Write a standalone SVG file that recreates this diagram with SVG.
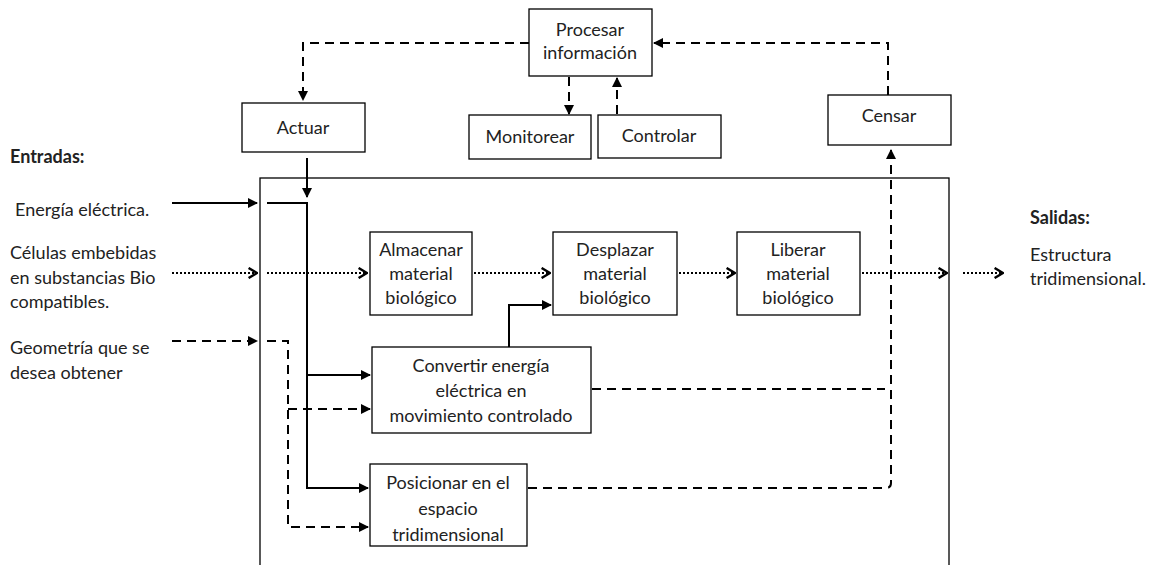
<svg xmlns="http://www.w3.org/2000/svg" width="1153" height="565" viewBox="0 0 1153 565">
<defs>
<style>
.box{fill:#fff;stroke:#000;stroke-width:1.3}
.t{font-family:Lato,"Liberation Sans",sans-serif;font-size:18px;fill:#222;text-anchor:middle}
.tl{font-family:Lato,"Liberation Sans",sans-serif;font-size:18px;fill:#222}
.b{font-weight:bold}
.solid{fill:none;stroke:#000;stroke-width:2}
.dash{fill:none;stroke:#000;stroke-width:2;stroke-dasharray:9 6}
.dot{fill:none;stroke:#000;stroke-width:2;stroke-dasharray:2 2}
</style>
<marker id="tri" viewBox="0 0 10 10" refX="9" refY="5" markerWidth="5" markerHeight="5" orient="auto" markerUnits="strokeWidth">
<path d="M0,0 L10,5 L0,10 z" fill="#000"/>
</marker>
<marker id="chev" viewBox="0 0 10 10" refX="9" refY="5" markerWidth="6" markerHeight="6" orient="auto" markerUnits="strokeWidth">
<path d="M2,0.8 L9,5 L2,9.2" fill="none" stroke="#000" stroke-width="2"/>
</marker>
</defs>
<rect width="1153" height="565" fill="#fff"/>

<g id="system-boundary"><rect x="260" y="178" width="689" height="400" fill="none" stroke="#000" stroke-width="1.3"/></g>

<g id="connectors">
<path class="dash" d="M529,43 H303 V100" marker-end="url(#tri)"/>
<path class="dash" d="M569,77 V114" marker-end="url(#tri)"/>
<path class="dash" d="M617,114 V78" marker-end="url(#tri)"/>
<path class="dash" d="M888,95 V43 H654" marker-end="url(#tri)"/>
<path class="solid" d="M307,158 V197" marker-end="url(#tri)"/>
<path class="solid" d="M172,203 H257" marker-end="url(#tri)"/>
<path class="solid" d="M267,203 H307 V488 H368" marker-end="url(#tri)"/>
<path class="solid" d="M307,375 H370" marker-end="url(#tri)"/>
<path class="dot" d="M172,273 H257" marker-end="url(#chev)"/>
<path class="dot" d="M267,273 H367" marker-end="url(#chev)"/>
<path class="dot" d="M474,273 H550" marker-end="url(#chev)"/>
<path class="dot" d="M679,273 H735" marker-end="url(#chev)"/>
<path class="dot" d="M862,273 H947" marker-end="url(#chev)"/>
<path class="dot" d="M963,273 H1003" marker-end="url(#chev)"/>
<path class="dash" d="M172,341 H257" marker-end="url(#tri)"/>
<path class="dash" d="M267,341 H288 V527 H368" marker-end="url(#tri)"/>
<path class="dash" d="M288,409 H370" marker-end="url(#tri)"/>
<path class="solid" d="M509,347 V305 H551" marker-end="url(#tri)"/>
<path class="dash" d="M592,389 H885"/>
<path class="dash" d="M528,488 H886 Q891,488 891,483 V150" marker-end="url(#tri)"/>
</g>

<g id="procesar"><rect class="box" x="529" y="9" width="123" height="67"/>
<text class="t" x="590" y="36">Procesar</text><text class="t" x="590" y="59">información</text></g>
<g id="actuar"><rect class="box" x="242" y="103" width="123" height="49"/>
<text class="t" x="303" y="134">Actuar</text></g>
<g id="monitorear"><rect class="box" x="469" y="115" width="122" height="44"/>
<text class="t" x="530" y="143">Monitorear</text></g>
<g id="controlar"><rect class="box" x="598" y="115" width="123" height="43"/>
<text class="t" x="659" y="142">Controlar</text></g>
<g id="censar"><rect class="box" x="828" y="95" width="123" height="50"/>
<text class="t" x="889" y="122">Censar</text></g>

<g id="almacenar"><rect class="box" x="370" y="232" width="102" height="83"/>
<text class="t" x="421" y="256">Almacenar</text><text class="t" x="421" y="280">material</text><text class="t" x="421" y="304">biológico</text></g>
<g id="desplazar"><rect class="box" x="553" y="232" width="124" height="83"/>
<text class="t" x="615" y="256">Desplazar</text><text class="t" x="615" y="280">material</text><text class="t" x="615" y="304">biológico</text></g>
<g id="liberar"><rect class="box" x="737" y="232" width="123" height="83"/>
<text class="t" x="798" y="256">Liberar</text><text class="t" x="798" y="280">material</text><text class="t" x="798" y="304">biológico</text></g>
<g id="convertir"><rect class="box" x="372" y="347" width="219" height="86"/>
<text class="t" x="481" y="372">Convertir energía</text><text class="t" x="481" y="397">eléctrica en</text><text class="t" x="481" y="422">movimiento controlado</text></g>
<g id="posicionar"><rect class="box" x="370" y="464" width="157" height="82"/>
<text class="t" x="448" y="489">Posicionar en el</text><text class="t" x="448" y="515">espacio</text><text class="t" x="448" y="541">tridimensional</text></g>

<g id="entradas">
<text class="tl b" x="10" y="163">Entradas:</text>
<text class="tl" x="15" y="216">Energía eléctrica.</text>
<text class="tl" x="10" y="259">Células embebidas</text>
<text class="tl" x="10" y="284">en substancias Bio</text>
<text class="tl" x="10" y="308">compatibles.</text>
<text class="tl" x="10" y="354">Geometría que se</text>
<text class="tl" x="10" y="379">desea obtener</text>
</g>
<g id="salidas">
<text class="tl b" x="1030" y="224">Salidas:</text>
<text class="tl" x="1030" y="261">Estructura</text>
<text class="tl" x="1030" y="285">tridimensional.</text>
</g>
</svg>
